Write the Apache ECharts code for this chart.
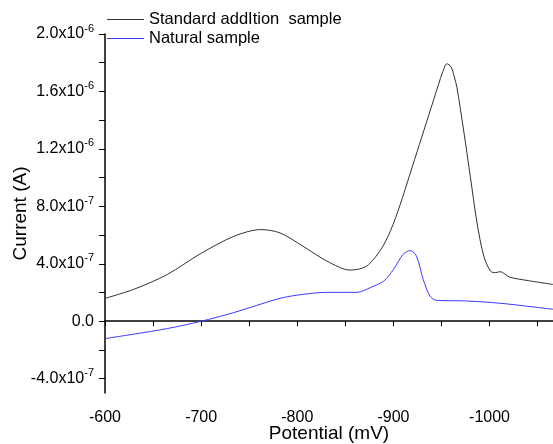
<!DOCTYPE html>
<html>
<head>
<meta charset="utf-8">
<script src="https://cdn.jsdelivr.net/npm/echarts@6/dist/echarts.min.js"></script>
<style>html,body{margin:0;padding:0;background:#fff}#c{width:553px;height:444px}</style>
</head>
<body>
<div id="c"></div>
<script>
// Data (potential in mV, current in units of 1e-7 A)
const stdPotential = [-600, -630, -665, -699, -734, -762, -782, -806, -831, -855, -872, -887, -897, -907, -917, -927, -937, -947, -951, -955.6, -960, -963, -966, -973, -980, -987, -994, -1001, -1006, -1011, -1021, -1039, -1066];
const stdCurrent   = [1.59, 2.22, 3.26, 4.69, 5.91, 6.38, 6.15, 5.22, 4.18, 3.56, 3.83, 5.0, 6.3, 8.11, 10.2, 12.3, 14.4, 16.5, 17.3, 17.93, 17.7, 17.1, 16.3, 13.31, 10.07, 6.84, 4.53, 3.49, 3.38, 3.45, 3.07, 2.84, 2.56];
const natPotential = [-600, -630, -665, -699, -734, -782, -806, -831, -862, -876, -890, -900, -910, -917.5, -924, -931, -938, -945, -976, -1011, -1046, -1066];
const natCurrent   = [-1.21, -0.90, -0.51, -0.02, 0.60, 1.59, 1.87, 2.01, 2.01, 2.34, 2.80, 3.60, 4.65, 4.92, 4.53, 2.91, 1.75, 1.45, 1.41, 1.25, 0.99, 0.83];
const seriesNames = ['Standard addItion  sample', 'Natural sample'];
const xTickLabels = [-600, -700, -800, -900, -1000];
const xTicks = [-600, -650, -700, -750, -800, -850, -900, -950, -1000, -1050];
const yTickLabels = [-4e-7, 0, 4e-7, 8e-7, 1.2e-6, 1.6e-6, 2e-6];
const yTicks = [-4e-7, -2e-7, 0, 2e-7, 4e-7, 6e-7, 8e-7, 1e-6, 1.2e-6, 1.4e-6, 1.6e-6, 1.8e-6, 2e-6];

function pairs(xs, ys) { return xs.map((x, i) => [x, ys[i] * 1e-7]); }

function fmtY(v) {
  if (Math.abs(v) < 1e-12) return '{a|0.0}';
  const e = Math.floor(Math.log10(Math.abs(v)) + 1e-9);
  const m = (v / Math.pow(10, e)).toFixed(1);
  return '{a|' + m + 'x10}{s|' + e + '}';
}

const chart = echarts.init(document.getElementById('c'));
const axisCol = '#000';
const font = 'Liberation Sans, Arial, sans-serif';
chart.setOption({
  animation: false,
  textStyle: { fontFamily: font },
  legend: {
    orient: 'vertical', left: 107, top: 11, padding: 0, itemWidth: 37, itemHeight: 1, itemGap: 2, icon: 'rect',
    textStyle: { fontSize: 16.5, color: '#000', fontFamily: font },
    data: seriesNames
  },
  grid: { left: 105, right: 0, top: 34, bottom: 51, containLabel: false, outerBoundsMode: 'none' },
  xAxis: {
    type: 'value', inverse: true, min: -1066, max: -600,
    name: 'Potential (mV)', nameLocation: 'middle', nameGap: 31, nameMoveOverlap: false,
    nameTextStyle: { fontSize: 19, color: '#000', fontFamily: font },
    axisLine: { lineStyle: { color: axisCol, width: 1.5 } },
    axisTick: { customValues: xTicks, length: 5, lineStyle: { color: axisCol, width: 1 } },
    axisLabel: { customValues: xTickLabels, fontSize: 16, color: '#000', margin: 17, formatter: v => String(v) },
    splitLine: { show: false }
  },
  yAxis: {
    type: 'value', min: -5e-7, max: 2e-6,
    name: 'Current (A)', nameLocation: 'middle', nameGap: 75, nameMoveOverlap: false,
    nameTextStyle: { fontSize: 19, color: '#000', fontFamily: font },
    axisLine: { show: true, lineStyle: { color: axisCol, width: 1.5 } },
    axisTick: { show: true, customValues: yTicks, length: 6, lineStyle: { color: axisCol, width: 1 } },
    axisLabel: {
      customValues: yTickLabels, margin: 11, formatter: fmtY,
      rich: {
        a: { fontSize: 16, color: '#000', fontFamily: font },
        s: { fontSize: 11, color: '#000', fontFamily: font, padding: [0, 0, 11, 0] }
      }
    },
    splitLine: { show: false }
  },
  series: [
    { name: seriesNames[0], type: 'line', symbol: 'none', smooth: 0.3, data: pairs(stdPotential, stdCurrent),
      lineStyle: { color: '#303030', width: 1 }, itemStyle: { color: '#303030' } },
    { name: seriesNames[1], type: 'line', symbol: 'none', smooth: 0.3, data: pairs(natPotential, natCurrent),
      lineStyle: { color: '#3a3aff', width: 1 }, itemStyle: { color: '#3a3aff' } }
  ]
});
</script>
</body>
</html>
